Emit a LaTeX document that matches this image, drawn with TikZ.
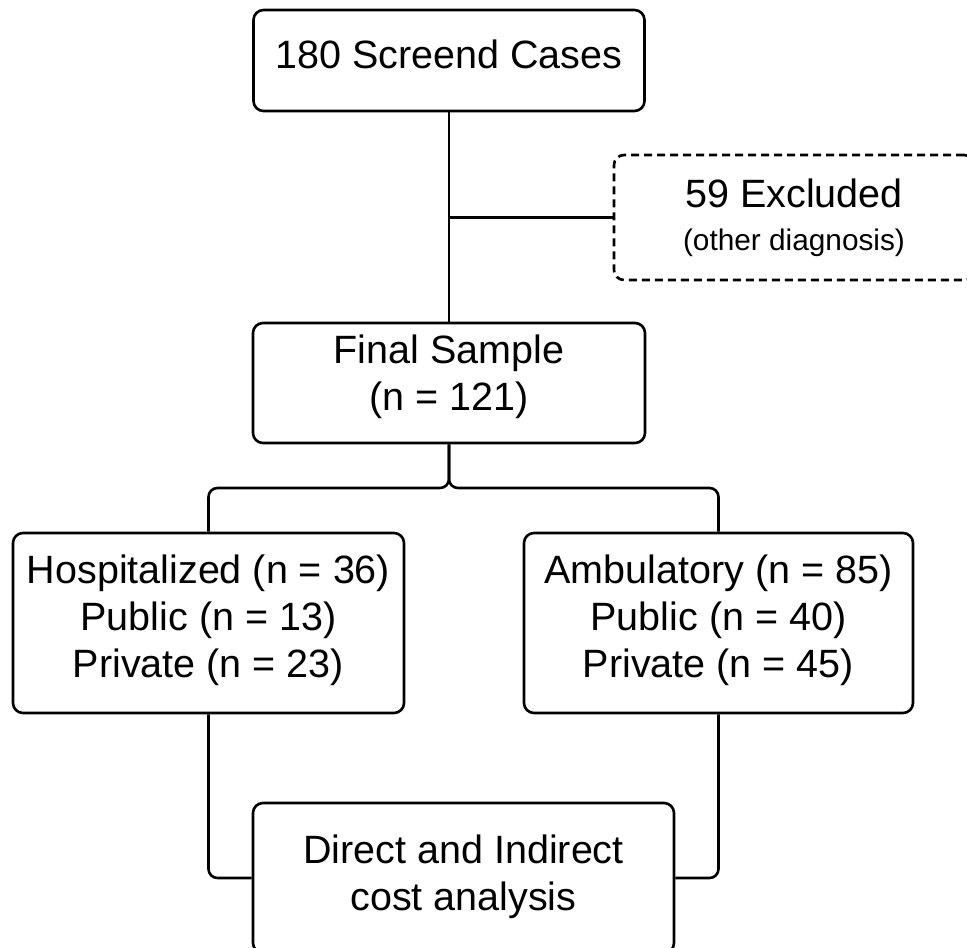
\documentclass[tikz,border=0pt]{standalone}
\usepackage{fontspec}
\setmainfont{Liberation Sans}

\tikzset{
    box/.style={
        draw,
        line width=2.6pt,
        rounded corners=10pt,
        align=center,
        inner sep=0pt,
        font=\fontsize{39.5}{47}\selectfont
        },
    dashbox/.style={
        box,
        dash pattern=on 8pt off 5pt
        },
    link/.style={
        line width=2.6pt,
        rounded corners=9pt
        }
}

\begin{document}
\begin{tikzpicture}[x=1pt,y=-1pt]
        \clip (0,0) rectangle (967,948);
        \fill[white] (0,0) rectangle (967,948);

        % Boxes:
        % Placed at the pixel centres of the flow chart
        \node[box, minimum width=391pt, minimum height=101pt, text depth=13pt]
            (screened) at (449,60.5) {180 Screend Cases};
        \node[dashbox, minimum width=360pt, minimum height=125pt]
            (excluded) at (794,217.5)
            {59 Excluded\\[-4pt]{\fontsize{29.8}{36}\selectfont (other diagnosis)}};
        \node[box, minimum width=392pt, minimum height=120pt, text depth=21pt]
            (final) at (449,383) {Final Sample\\(n = 121)};
        \node[box, minimum width=391pt, minimum height=180pt, text depth=14pt]
            (hosp) at (208.5,623)
            {Hospitalized (n = 36)\\Public (n = 13)\\Private (n = 23)};
        \node[box, minimum width=389pt, minimum height=180pt, text depth=14pt]
            (amb) at (718.5,623)
            {Ambulatory (n = 85)\\Public (n = 40)\\Private (n = 45)};
        \node[box, minimum width=421pt, minimum height=150pt, text depth=11pt]
            (direct) at (463.5,878) {Direct and Indirect\\cost analysis};

        % Links:
        \draw[link] (screened) -- (final);
        \draw[link] (excluded.west) -- (excluded.west -| screened.south);

        %split into the two groups
        \coordinate (split) at (449,488);
        \draw[link] (final.south) -- (split) -| (hosp.north);
        \draw[link] (final.south) -- (split) -| (amb.north);

        %join into the analysis
        \draw[link] (hosp.south) |- (direct.west);
        \draw[link] (amb.south) |- (direct.east);
    \end{tikzpicture}
\end{document}
